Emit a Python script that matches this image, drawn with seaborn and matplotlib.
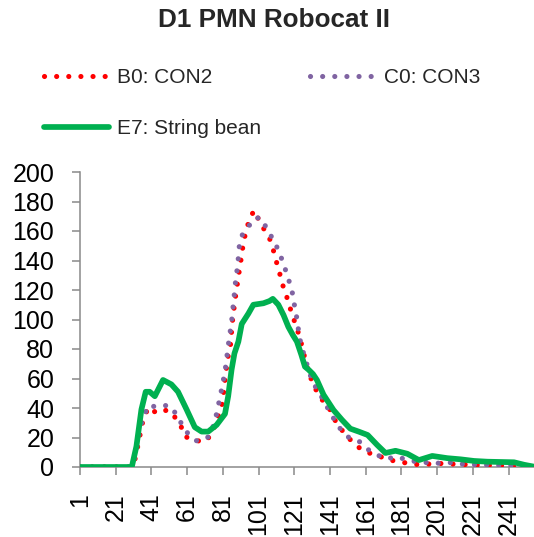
import matplotlib
matplotlib.use("Agg")
import matplotlib.pyplot as plt
import seaborn as sns

# ---- data ----
title = "D1 PMN Robocat II"
labels = ["B0: CON2", "C0: CON3", "E7: String bean"]

b0_x = [1, 30, 32, 34, 36, 38, 40, 42, 44.7, 47.5, 50.3, 54, 57.3, 59.7, 64.4, 70, 74.7, 77.1, 79.4, 80.9,
        82.2, 83.5, 85.3, 86.3, 87.8, 89.7, 91.6, 92.5, 94, 95.8, 98.5, 101, 103.7, 107.5, 109.3, 110.8,
        112.7, 114.2, 116.4, 118.1, 120.2, 122.5, 124.3, 126.5, 128.5, 131, 133.7, 137.5, 141.2, 144,
        147.7, 152, 156.2, 161.4, 167.4, 173, 179, 185.2, 191.7, 200, 210, 220, 235, 255]
b0_y = [0, 0, 6, 18, 30, 37, 40.5, 38, 36.4, 38, 38.6, 34, 28.5, 20.6, 18.8, 16.7, 21.7, 30, 37.5, 44,
        59, 72, 83, 98, 113, 129, 144, 152, 160, 167.5, 174, 168, 162, 154, 147, 140,
        132, 124.5, 117, 110, 102, 94, 87, 76, 66, 58, 51, 44, 38.6, 31.4,
        25, 19, 14, 10, 8, 5.2, 3.6, 2.5, 1.4, 2.5, 2, 1.5, 1, 0.5]

c0_x = [1, 30, 32, 34, 36.3, 39.7, 42.5, 45.7, 51.3, 55, 57.9, 61.6, 66.3, 72.2, 74.7, 77.1, 78.4, 79.8,
        80.9, 82.2, 84.6, 85.6, 86.3, 86.9, 87.6, 88.2, 89.1, 89.7, 90.2, 91.9, 95.3, 99.1, 102.8, 105.6,
        109, 111.6, 114, 116, 118.1, 119.8, 120.9, 122.1, 123, 123.9, 125.5, 127.5, 129.5, 131.2, 134,
        137.4, 141, 144, 147.3, 152, 157.5, 162.1, 167.4, 173, 178.6, 184.3, 190, 196.4, 202.9, 208,
        215, 225, 240, 255]
c0_y = [0, 0, 8, 22, 34, 42, 41, 42, 41.4, 35.7, 29.2, 22.4, 17.8, 19.5, 24, 34, 41.4, 49.5,
        56.7, 64.6, 87.7, 95.6, 103, 111, 119, 127, 134.7, 142, 149.4, 157.3, 163, 169, 168.6, 161.4,
        154.6, 148.3, 141, 134, 126, 119, 111, 103.5, 96, 88, 80, 72, 64, 58, 52,
        45.4, 37, 31, 25, 19.5, 17.2, 12, 8.1, 5.6, 7, 4.7, 3.5, 2.9, 2.5, 3,
        2, 1.5, 1, 0.5]

e7_x = [1, 30, 32.6, 35.4, 37.8, 40, 42.9, 47.5, 52.2, 55.9, 60.7, 65.3, 69.1, 72.8, 77.5, 82.2, 84,
        85.9, 87.5, 89.7, 91.6, 95.3, 98.1, 103.7, 107.1, 109, 112.1, 115, 117.7, 120.2, 122.5, 125,
        127, 129, 131.5, 133.7, 137.4, 143, 147.7, 152.4, 157.1, 162.1, 167.4, 172.1, 177.7, 184.3,
        190.8, 198.3, 206.7, 214.2, 221.7, 229.2, 244.1, 249.8, 255]
e7_y = [0, 0, 14, 39, 51, 51, 48, 59, 56, 51, 39, 27, 24, 24, 28.5, 36, 48,
        66, 77, 85, 97, 104, 110, 111, 112.5, 114, 110, 103, 95, 89.5, 85, 76,
        68, 66, 63, 59, 49, 38.6, 32, 26, 24, 21.7, 15, 9.5, 11, 9,
        4.7, 7.5, 6, 5.2, 4.1, 3.6, 3.2, 1.5, 0.3]

x_ticks = list(range(1, 242, 20))
y_ticks = list(range(0, 201, 20))

colors = {"B0": "#FF0000", "C0": "#8064A2", "E7": "#00B050"}

# ---- style ----
sns.set_theme(style="white")
plt.rcParams["font.family"] = ["Liberation Sans", "DejaVu Sans"]

W, H = 534, 537
fig = plt.figure(figsize=(W / 100, H / 100), dpi=100)
ax = fig.add_axes([80 / W, (H - 467) / H, 453.5 / W, 295 / H])

dot_lw = 3.7
dot = (0, (0.01, 2.35))
sns.lineplot(x=b0_x, y=b0_y, ax=ax, color=colors["B0"], linewidth=dot_lw, label=labels[0])
sns.lineplot(x=c0_x, y=c0_y, ax=ax, color=colors["C0"], linewidth=dot_lw, label=labels[1])
sns.lineplot(x=e7_x, y=e7_y, ax=ax, color=colors["E7"], linewidth=4.1, label=labels[2])
lines = ax.get_lines()
for ln in lines[:2]:
    ln.set_linestyle(dot)
    ln.set_dash_capstyle("round")
lines[2].set_solid_capstyle("round")
lines[2].set_solid_joinstyle("round")
if ax.get_legend() is not None:
    ax.get_legend().remove()

ax.set_xlim(1, 255)
ax.set_ylim(0, 200)
ax.set_xticks(x_ticks)
ax.set_xticklabels([str(t) for t in x_ticks], rotation=90)
ax.set_yticks(y_ticks)
ax.set_xlabel("")
ax.set_ylabel("")

for s in ["top", "right"]:
    ax.spines[s].set_visible(False)
for s in ["left", "bottom"]:
    ax.spines[s].set_color("#898989")
    ax.spines[s].set_linewidth(1.1)
    ax.spines[s].set_zorder(0.5)
ax.tick_params(axis="both", which="major", direction="out", length=5.5, width=1.1,
               color="#898989", labelsize=18, labelcolor="black")
ax.tick_params(axis="x", pad=13.5, bottom=True)
ax.tick_params(axis="y", pad=13, left=True)
for lab in ax.get_xticklabels():
    lab.set_verticalalignment("top")
    lab.set_horizontalalignment("center")

fig.text(274 / W, 1 - 20 / H, title, ha="center", va="center", fontsize=18.8, fontweight="bold")

handles = [lines[0], lines[2], lines[1]]
leg_labels = [labels[0], labels[2], labels[1]]
fig.legend(handles, leg_labels, loc="upper left", bbox_to_anchor=(44 / W, 1 - 68 / H),
           ncol=2, frameon=False, fontsize=15, handlelength=3.1, handletextpad=0.42,
           columnspacing=2.35, labelspacing=1.56, borderpad=0, borderaxespad=0)

fig.savefig("out.png", dpi=100, facecolor="white")
